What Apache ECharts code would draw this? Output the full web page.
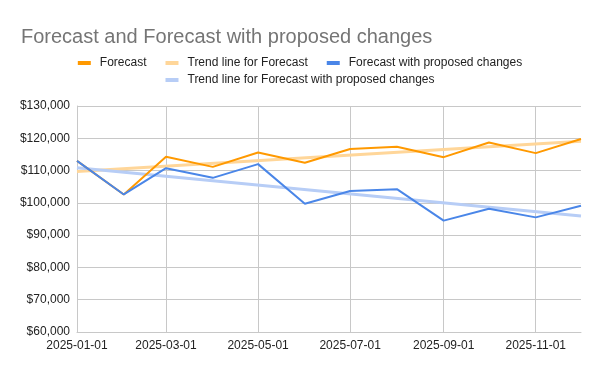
<!DOCTYPE html>
<html>
<head>
<meta charset="utf-8">
<script src="https://cdn.jsdelivr.net/npm/echarts@6/dist/echarts.min.js"></script>
<style>html,body{margin:0;padding:0;background:#fff}#c{width:600px;height:371px}</style>
</head>
<body>
<div id="c"></div>
<script>
const months = ['2025-01-01','2025-02-01','2025-03-01','2025-04-01','2025-05-01','2025-06-01','2025-07-01','2025-08-01','2025-09-01','2025-10-01','2025-11-01','2025-12-01'];
const forecast = [113000,102600,114250,111150,115600,112400,116700,117350,114150,118700,115400,119800];
const proposed = [113000,102600,110750,107750,112000,99700,103650,104250,94500,98200,95500,99100];
const trendDates = ['2025-01-01','2025-12-01'];
const trendForecast = [109700,119100];
const trendProposed = [110850,95900];
const xTicks = ['2025-01-01','2025-03-01','2025-05-01','2025-07-01','2025-09-01','2025-11-01'];
const yTicks = {min:60000, max:130000, step:10000};
const names = ['Forecast','Trend line for Forecast','Forecast with proposed changes','Trend line for Forecast with proposed changes'];

const ts = d => new Date(d + 'T00:00:00Z').getTime();
const pairs = (xs, ys) => xs.map((x, i) => [ts(x), ys[i]]);
const tickTs = xTicks.map(ts);
const fmtDate = v => { const d = new Date(v); const p = n => String(n).padStart(2,'0'); return d.getUTCFullYear()+'-'+p(d.getUTCMonth()+1)+'-'+p(d.getUTCDate()); };

const font = 'Arial, "Liberation Sans", sans-serif';
const chart = echarts.init(document.getElementById('c'), null, {renderer:'canvas'});
chart.setOption({
  animation:false,
  textStyle:{fontFamily:font},
  title:{text:'Forecast and Forecast with proposed changes', left:16, top:22,
    textStyle:{fontFamily:font, fontSize:20, fontWeight:'normal', color:'#757575'}},
  legend:[
    {data:names.slice(0,3), left:'center', top:52, icon:'rect', itemWidth:13, itemHeight:4, itemGap:19,
     textStyle:{fontFamily:font, fontSize:12, color:'#222', padding:[0,0,0,4]}},
    {data:names.slice(3), left:'center', top:69, icon:'rect', itemWidth:13, itemHeight:4, itemGap:19,
     textStyle:{fontFamily:font, fontSize:12, color:'#222', padding:[0,0,0,4]}}
  ],
  grid:{left:77, right:19, top:106, bottom:39, containLabel:false},
  xAxis:{type:'value', min:ts(months[0]), max:ts(months[months.length-1]),
    axisLine:{show:true, lineStyle:{color:'#c8c8c8'}},
    axisTick:{show:false, customValues:tickTs},
    axisLabel:{customValues:tickTs, formatter:fmtDate, color:'#222', fontSize:12, fontFamily:font, margin:8, hideOverlap:false},
    splitLine:{show:true, lineStyle:{color:'#c8c8c8'}}},
  yAxis:{type:'value', min:yTicks.min, max:yTicks.max, interval:yTicks.step,
    axisLine:{show:true, lineStyle:{color:'#c8c8c8'}},
    axisTick:{show:false},
    axisLabel:{formatter:v => '$' + v.toLocaleString('en-US'), color:'#222', fontSize:12, fontFamily:font, margin:7},
    splitLine:{lineStyle:{color:'#c8c8c8'}}},
  series:[
    {name:names[1], type:'line', data:pairs(trendDates, trendForecast), showSymbol:false, z:1,
     color:'#ffd699', lineStyle:{width:3, color:'#ffd699'}},
    {name:names[3], type:'line', data:pairs(trendDates, trendProposed), showSymbol:false, z:1,
     color:'#b7cdf6', lineStyle:{width:3, color:'#b7cdf6'}},
    {name:names[0], type:'line', data:pairs(months, forecast), showSymbol:false, z:3,
     color:'#ff9900', lineStyle:{width:2, color:'#ff9900'}},
    {name:names[2], type:'line', data:pairs(months, proposed), showSymbol:false, z:3,
     color:'#4a86e8', lineStyle:{width:2, color:'#4a86e8'}}
  ]
});
</script>
</body>
</html>
